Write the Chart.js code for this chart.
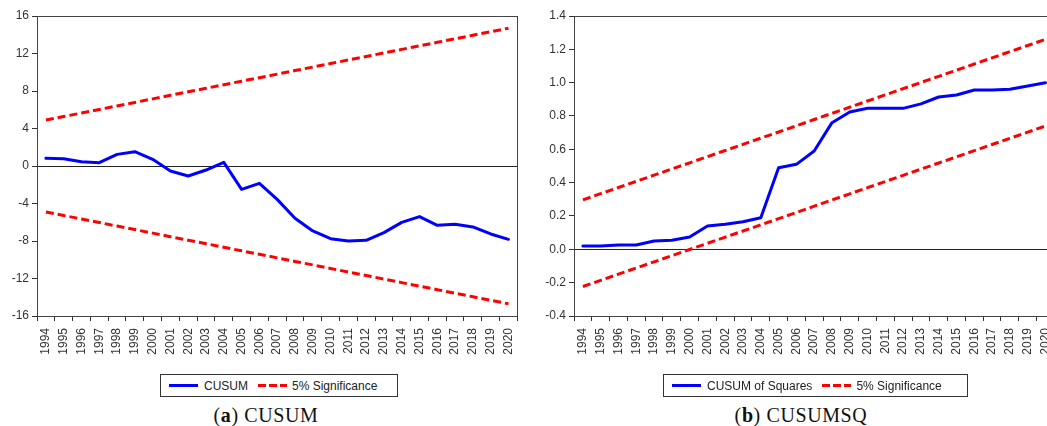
<!DOCTYPE html>
<html><head><meta charset="utf-8">
<script src="https://cdn.jsdelivr.net/npm/chart.js@4"></script>
<style>
html,body{margin:0;padding:0;width:1047px;height:426px;overflow:hidden;background:#fff;position:relative;}
canvas{position:absolute;top:0;}
#c1{left:0;}
#c2{left:527px;}
.legend{position:absolute;top:374px;height:23px;box-sizing:border-box;border:1px solid #333;font:12px "Liberation Sans",Arial,sans-serif;color:#222;display:flex;align-items:center;white-space:nowrap;}
.sw{display:inline-block;width:29px;height:3px;margin:0 6px 0 8px;}
.sw2{margin-left:10px;margin-right:5px;}
.solid{background:#0000ff;}
.dash{background:repeating-linear-gradient(to right,#ff0000 0 8px,transparent 8px 11px);}
.cap{position:absolute;top:404px;font:20px "Liberation Serif",serif;color:#111;white-space:nowrap;transform:translateX(-50%);letter-spacing:0.6px;}
</style></head>
<body>
<canvas id="c1" width="530" height="370"></canvas>
<canvas id="c2" width="540" height="370"></canvas>
<div class="legend" id="lg1" style="left:160px;width:238px;"></div>
<div class="legend" id="lg2" style="left:663px;width:305px;"></div>
<div class="cap" style="left:266px;">(<b>a</b>) CUSUM</div>
<div class="cap" style="left:801px;">(<b>b</b>) CUSUMSQ</div>
<script>
const years = ['1994','1995','1996','1997','1998','1999','2000','2001','2002','2003','2004','2005','2006','2007','2008','2009','2010','2011','2012','2013','2014','2015','2016','2017','2018','2019','2020'];

const cusum = [0.82,0.78,0.46,0.35,1.24,1.53,0.71,-0.53,-1.07,-0.43,0.39,-2.49,-1.85,-3.56,-5.58,-6.93,-7.75,-8.0,-7.93,-7.11,-6.01,-5.4,-6.33,-6.22,-6.5,-7.25,-7.82];
const cusumUpper = [4.90,5.28,5.65,6.03,6.41,6.78,7.16,7.54,7.92,8.29,8.67,9.05,9.42,9.80,10.18,10.55,10.93,11.31,11.68,12.06,12.44,12.82,13.19,13.57,13.95,14.32,14.70];
const cusumLower = [-4.90,-5.28,-5.65,-6.03,-6.41,-6.78,-7.16,-7.54,-7.92,-8.29,-8.67,-9.05,-9.42,-9.80,-10.18,-10.55,-10.93,-11.31,-11.68,-12.06,-12.44,-12.82,-13.19,-13.57,-13.95,-14.32,-14.70];

const cusumsq = [0.02,0.02,0.026,0.026,0.05,0.054,0.074,0.14,0.15,0.166,0.19,0.49,0.51,0.59,0.76,0.824,0.846,0.846,0.846,0.873,0.914,0.926,0.956,0.956,0.96,0.98,1.0];
const cusumsqUpper = [0.297,0.334,0.371,0.408,0.445,0.482,0.519,0.556,0.593,0.630,0.667,0.704,0.741,0.779,0.816,0.853,0.890,0.927,0.964,1.001,1.038,1.075,1.112,1.149,1.186,1.223,1.260];
const cusumsqLower = [-0.223,-0.186,-0.149,-0.112,-0.075,-0.038,-0.001,0.036,0.073,0.110,0.147,0.184,0.221,0.259,0.296,0.333,0.370,0.407,0.444,0.481,0.518,0.555,0.592,0.629,0.666,0.703,0.740];

const cusumTicks = [-16,-12,-8,-4,0,4,8,12,16];
const cusumsqTicks = [-0.4,-0.2,0.0,0.2,0.4,0.6,0.8,1.0,1.2,1.4];

const seriesNames1 = ['CUSUM','5% Significance'];
const seriesNames2 = ['CUSUM of Squares','5% Significance'];

const FONT = {family:'"Liberation Sans", Arial, sans-serif', size:12};
const AX = '#333333';

const framePlugin = {
  id:'frame',
  afterDatasetsDraw(chart){
    const a = chart.chartArea, c = chart.ctx;
    c.save();
    c.strokeStyle = '#444';
    c.lineWidth = 1;
    c.strokeRect(Math.round(a.left)+0.5, Math.round(a.top)+0.5, Math.round(a.right-a.left), Math.round(a.bottom-a.top));
    c.restore();
  }
};

function makeChart(id, main, up, lo, names, tickVals, yMin, yMax, yWidth, padRight, fmt){
  const dash = {borderColor:'#ff0000', borderWidth:3, borderDash:[8,4], pointRadius:0, fill:false, tension:0, label:names[1]};
  return new Chart(document.getElementById(id), {
    type:'line',
    data:{labels:years, datasets:[
      {label:names[0], data:main, borderColor:'#0000ff', borderWidth:3, pointRadius:0, fill:false, tension:0, borderJoinStyle:'round', borderCapStyle:'round'},
      Object.assign({data:up}, dash),
      Object.assign({data:lo}, dash)
    ]},
    options:{
      responsive:false, animation:false, events:[],
      layout:{padding:{top:16, right:padRight, left:0, bottom:0}},
      plugins:{legend:{display:false}, tooltip:{enabled:false}},
      scales:{
        x:{
          type:'category', offset:true,
          grid:{offset:true, drawOnChartArea:false, tickLength:5, color:AX, tickColor:AX},
          border:{color:AX, width:1},
          ticks:{font:FONT, color:AX, maxRotation:90, minRotation:90, autoSkip:false, padding:7},
          afterFit(s){ s.height = 54; }
        },
        y:{
          min:yMin, max:yMax,
          afterBuildTicks(s){ s.ticks = tickVals.map(v=>({value:v})); },
          grid:{drawOnChartArea:true, tickLength:5, tickColor:AX,
                color:(ctx)=> (ctx.tick && Math.abs(ctx.tick.value)<1e-9) ? '#222' : 'rgba(0,0,0,0)'},
          border:{color:AX, width:1},
          ticks:{font:FONT, color:AX, padding:3, callback:(v)=>fmt(v)},
          afterFit(s){ s.width = yWidth; }
        }
      }
    },
    plugins:[framePlugin]
  });
}

makeChart('c1', cusum, cusumUpper, cusumLower, seriesNames1, cusumTicks, -16, 16, 37, 7, v=>String(Math.round(v)));
makeChart('c2', cusumsq, cusumsqUpper, cusumsqLower, seriesNames2, cusumsqTicks, -0.4, 1.4, 47, 7, v=>Number(v).toFixed(1));

function legend(id, names){
  const el = document.getElementById(id);
  el.innerHTML = '<span class="sw solid"></span><span>'+names[0]+'</span><span class="sw sw2 dash"></span><span>'+names[1]+'</span>';
}
legend('lg1', seriesNames1);
legend('lg2', seriesNames2);
</script>
</body></html>
